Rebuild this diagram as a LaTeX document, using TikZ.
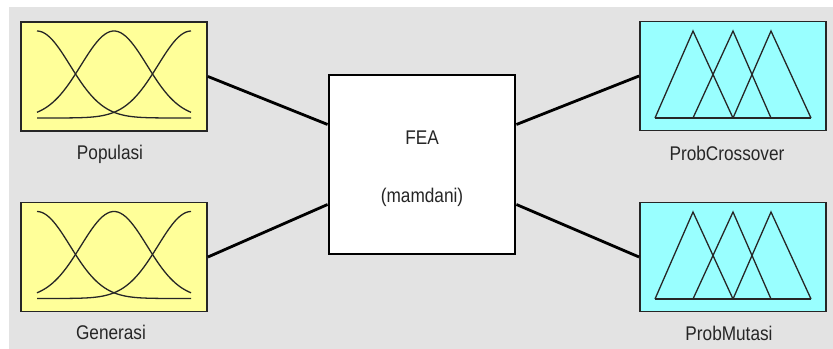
\documentclass[tikz,border=0pt]{standalone}
\usepackage{fontspec}
\newfontfamily\guifont{Liberation Sans}
\usepackage{tikz}
\usetikzlibrary{calc}

\definecolor{panel}{HTML}{E3E3E3}
\definecolor{inyellow}{HTML}{FFFF99}
\definecolor{outcyan}{HTML}{99FFFF}

\begin{document}
\begin{tikzpicture}[
      x=0.03cm, y=-0.03cm,
      varbox/.style={draw=black!85, line width=1.6pt, minimum width=5.58cm,
                     minimum height=3.27cm, inner sep=0pt},
      fisbox/.style={draw=black, line width=2.4pt, fill=white,
                     minimum width=5.58cm, minimum height=5.37cm, inner sep=0pt},
      lbl/.style={font=\guifont\fontsize{14.7}{17}\selectfont, text=black!85,
                  anchor=base, inner sep=0pt, yscale=1.15},
      link/.style={line width=2.4pt, black},
      mf/.style={line width=1.1pt, black!85},
    ]
    \useasboundingbox (0,0) rectangle (833,349);
    \fill[panel] (9,7) rectangle (833,349);

    % inputs
    \node[varbox, fill=inyellow] (pop) at (114,76.5) {};
    \node[varbox, fill=inyellow] (gen) at (114,257) {};
    % outputs
    \node[varbox, fill=outcyan] (cross) at (733,76) {};
    \node[varbox, fill=outcyan] (mut) at (733,257) {};
    % inference system
    \node[fisbox] (fis) at (422,164.5) {};

    \node[lbl] (fisname) at (422,145) {FEA};
    \node[lbl] (fistype) at (422,203) {(mamdani)};

    \node[lbl] (poplbl) at (110,160) {Populasi};
    \node[lbl] (genlbl) at (111,340) {Generasi};
    \node[lbl] (crosslbl) at (727,161) {ProbCrossover};
    \node[lbl] (mutlbl) at (729,341) {ProbMutasi};

    % gaussian membership functions
    \foreach \b in {pop,gen} {
      \begin{scope}[shift={(\b.center)}]
        \foreach \c in {-77,0,77}
          \draw[mf, domain=-77:77, samples=60, smooth]
            plot (\x, {41.5 - 87*exp(-0.5*((\x-\c)/33)^2)});
      \end{scope}
    }

    % triangular membership functions
    \foreach \b in {cross,mut} {
      \begin{scope}[shift={(\b.center)}]
        \draw[mf] (-78,42) -- (-40,-45) -- (0,42);
        \draw[mf] (-40,42) -- (0,-45) -- (38,42);
        \draw[mf] (0,42) -- (38,-45) -- (78,42);
        \draw[mf] (-78,42) -- (78,42);
      \end{scope}
    }

    % connections
    \draw[link] (pop.east) -- ([yshift=1.2cm]fis.west);
    \draw[link] (gen.east) -- ([yshift=-1.2cm]fis.west);
    \draw[link] ([yshift=1.2cm]fis.east) -- (cross.west);
    \draw[link] ([yshift=-1.2cm]fis.east) -- (mut.west);
\end{tikzpicture}
\end{document}
